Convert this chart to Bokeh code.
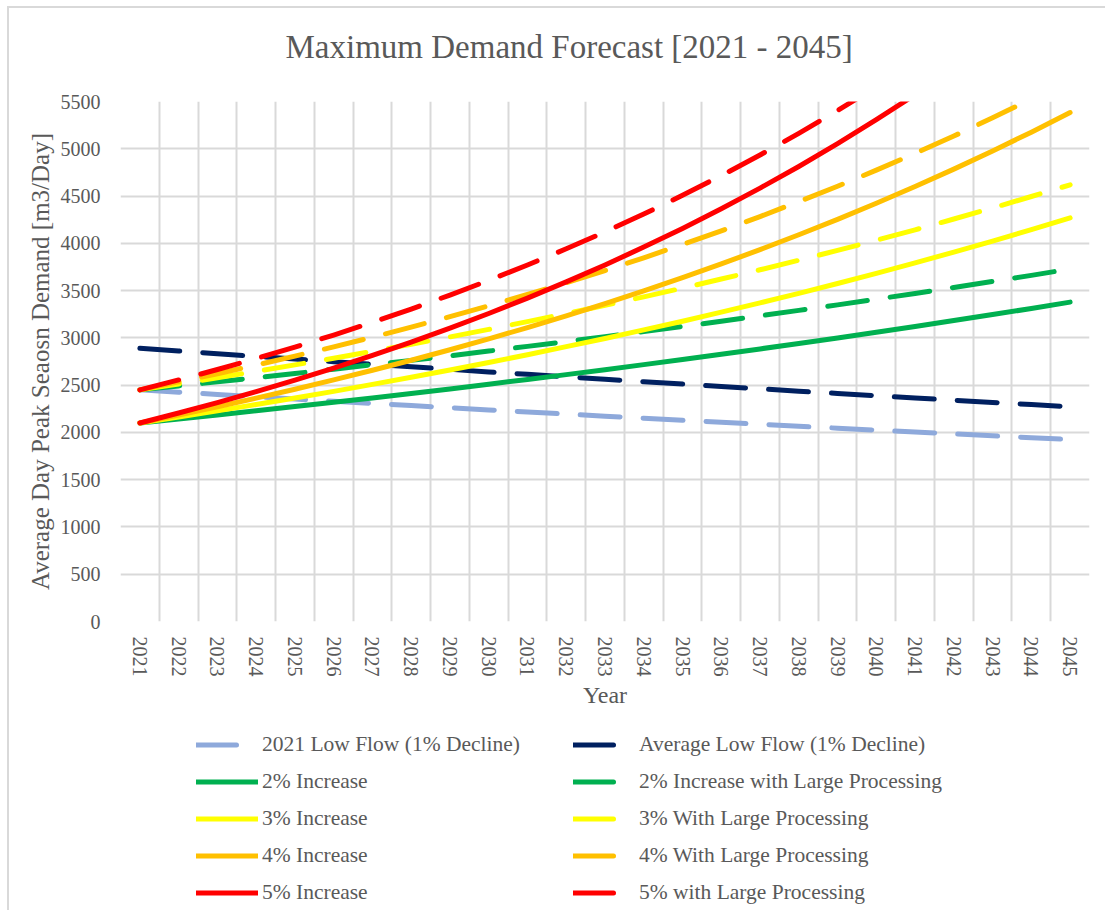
from bokeh.plotting import figure
from bokeh.models import FixedTicker, Legend, LegendItem, Title
from bokeh.layouts import column
from bokeh.embed import file_html
from bokeh.resources import INLINE

years = list(range(2021, 2046))
y_ticks = list(range(0, 5501, 500))

low_flow_2021 = [2450, 2426, 2401, 2377, 2353, 2330, 2307, 2284, 2261, 2238, 2216, 2194, 2172,
                 2150, 2128, 2107, 2086, 2065, 2045, 2024, 2004, 1984, 1964, 1944, 1925]
avg_low_flow = [2890, 2861, 2832, 2804, 2776, 2748, 2721, 2694, 2667, 2640, 2614, 2588, 2562,
                2536, 2511, 2486, 2461, 2436, 2412, 2388, 2364, 2340, 2317, 2294, 2271]
inc2 = [2100, 2142, 2185, 2229, 2273, 2319, 2365, 2412, 2460, 2510, 2560, 2611, 2663,
        2717, 2771, 2826, 2883, 2941, 2999, 3059, 3120, 3183, 3247, 3311, 3378]
inc2_lp = [2450, 2492, 2535, 2579, 2623, 2669, 2715, 2762, 2810, 2860, 2910, 2961, 3013,
           3067, 3121, 3176, 3233, 3291, 3349, 3409, 3470, 3533, 3597, 3661, 3728]
inc3 = [2100, 2163, 2228, 2295, 2364, 2434, 2508, 2583, 2660, 2740, 2822, 2907, 2994,
        3084, 3176, 3272, 3370, 3471, 3575, 3682, 3793, 3907, 4024, 4145, 4269]
inc3_lp = [2450, 2513, 2578, 2645, 2714, 2784, 2858, 2933, 3010, 3090, 3172, 3257, 3344,
           3434, 3526, 3622, 3720, 3821, 3925, 4032, 4143, 4257, 4374, 4495, 4619]
inc4 = [2100, 2184, 2271, 2362, 2457, 2555, 2657, 2763, 2874, 2989, 3109, 3233, 3362,
        3497, 3637, 3782, 3933, 4091, 4254, 4424, 4601, 4785, 4977, 5176, 5383]
inc4_lp = [2450, 2534, 2621, 2712, 2807, 2905, 3007, 3113, 3224, 3339, 3459, 3583, 3712,
           3847, 3987, 4132, 4283, 4441, 4604, 4774, 4951, 5135, 5327, 5526, 5733]
inc5 = [2100, 2205, 2315, 2431, 2553, 2680, 2814, 2955, 3103, 3258, 3421, 3592, 3771,
        3960, 4158, 4366, 4584, 4813, 5054, 5307, 5572, 5851, 6143, 6450, 6773]
inc5_lp = [2450, 2555, 2665, 2781, 2903, 3030, 3164, 3305, 3453, 3608, 3771, 3942, 4121,
           4310, 4508, 4716, 4934, 5163, 5404, 5657, 5922, 6201, 6493, 6800, 7123]

series = [
    ("2021 Low Flow (1% Decline)", low_flow_2021, "#8EA9DB", True),
    ("Average Low Flow (1% Decline)", avg_low_flow, "#002060", True),
    ("2% Increase", inc2, "#00B050", False),
    ("2% Increase with Large Processing", inc2_lp, "#00B050", True),
    ("3% Increase", inc3, "#FFFF00", False),
    ("3% With Large Processing", inc3_lp, "#FFFF00", True),
    ("4% Increase", inc4, "#FFC000", False),
    ("4% With Large Processing", inc4_lp, "#FFC000", True),
    ("5% Increase", inc5, "#FF0000", False),
    ("5% with Large Processing", inc5_lp, "#FF0000", True),
]

FONT = "Liberation Serif"
TXT = "#595959"
GRID = "#D9D9D9"
LW = 5
DASH = "40 23"

p = figure(width=1105, height=720, output_backend="svg", toolbar_location=None,
           x_range=(years[0] - 0.5, years[-1] + 0.5), y_range=(y_ticks[0], y_ticks[-1]),
           min_border_left=120, min_border_right=16, min_border_top=101, min_border_bottom=99)
p.title = None
# spacer panel between frame and title, then the title above it
p.add_layout(Title(text=" ", text_font_size="20px", standoff=8, text_color=TXT), "above")
p.add_layout(Title(text="Maximum Demand Forecast [2021 - 2045]", align="left", offset=165,
                   text_font=FONT, text_font_size="33px", text_font_style="normal",
                   text_color=TXT, standoff=10), "above")
p.outline_line_color = None
p.background_fill_color = "white"
p.border_fill_color = None

for label, vals, color, dashed in series:
    p.line(years, vals, line_color=color, line_width=LW, line_cap="round",
           line_join="round", line_dash=DASH if dashed else "solid")

p.xaxis.ticker = FixedTicker(ticks=years)
p.yaxis.ticker = FixedTicker(ticks=y_ticks)
p.xgrid.ticker = FixedTicker(ticks=[y - 0.5 for y in years] + [years[-1] + 0.5])
p.ygrid.ticker = FixedTicker(ticks=y_ticks)
for g in (p.xgrid, p.ygrid):
    g.grid_line_color = GRID
    g.grid_line_width = 2
for ax in (p.xaxis, p.yaxis):
    ax.axis_line_color = None
    ax.major_tick_line_color = None
    ax.minor_tick_line_color = None
    ax.major_tick_out = 0
    ax.major_tick_in = 0
    ax.minor_tick_out = 0
    ax.minor_tick_in = 0
    ax.major_label_text_font = FONT
    ax.major_label_text_font_size = "20px"
    ax.major_label_text_color = TXT
    ax.axis_label_text_font = FONT
    ax.axis_label_text_font_style = "normal"
    ax.axis_label_text_color = TXT
p.xaxis.major_label_orientation = "vertical"
p.xaxis.major_label_standoff = 15
p.xaxis.axis_label = "Year"
p.xaxis.axis_label_text_font_size = "24px"
p.xaxis.axis_label_standoff = 2
p.yaxis.major_label_standoff = 20
p.yaxis.axis_label = "Average Day Peak Seaosn Demand [m3/Day]"
p.yaxis.axis_label_text_font_size = "25px"
p.yaxis.axis_label_standoff = 4

# legend panel (separate figure under the chart; its frame aligns with the chart's)
pl = figure(width=1105, height=190, output_backend="svg", toolbar_location=None,
            x_range=(0, 1), y_range=(0, 1), min_border=0,
            x_axis_location=None, y_axis_location=None)
pl.grid.visible = False
pl.outline_line_color = None
pl.background_fill_color = None
pl.border_fill_color = None

nan = float("nan")
swatches = []
for label, vals, color, dashed in series:
    r = pl.line([nan], [nan], line_color=color, line_width=LW, line_cap="round",
                line_join="round", line_dash=DASH if dashed else "solid")
    swatches.append((label, r))

col1 = [swatches[i] for i in (0, 2, 4, 6, 8)]
col2 = [swatches[i] for i in (1, 3, 5, 7, 9)]
for items, loc in ((col1, (76, 5)), (col2, (453, 5))):
    leg = Legend(items=[LegendItem(label=l, renderers=[r]) for l, r in items],
                 location=loc, orientation="vertical",
                 glyph_width=62, glyph_height=25, label_height=25,
                 label_standoff=4, spacing=12, padding=0, margin=0,
                 border_line_color=None, background_fill_alpha=0,
                 label_text_font=FONT, label_text_font_size="21.5px", label_text_color=TXT)
    pl.add_layout(leg)

border = ("linear-gradient(#D9D9D9, #D9D9D9) 7px 6px / 100% 2px no-repeat, "
          "linear-gradient(#D9D9D9, #D9D9D9) 7px 6px / 2px 100% no-repeat, white")
layout = column(p, pl, styles={"background": border})

open("out.html", "w").write(file_html(layout, INLINE))
